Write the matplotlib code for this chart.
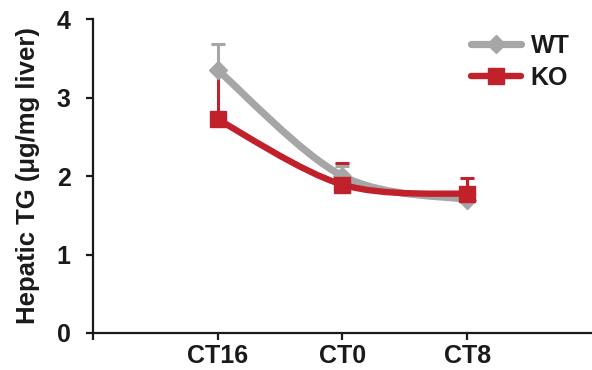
import matplotlib
matplotlib.use("Agg")
import matplotlib.pyplot as plt
from matplotlib.path import Path
from matplotlib.patches import PathPatch
from matplotlib.lines import Line2D
import numpy as np

plt.rcParams['font.family'] = ['Liberation Sans', 'DejaVu Sans']
plt.rcParams['font.weight'] = 'bold'

categories = ['CT16', 'CT0', 'CT8']
wt_values = [3.35, 2.00, 1.70]
wt_err = [0.33, 0.13, 0.10]
ko_values = [2.72, 1.89, 1.77]
ko_err = [0.56, 0.28, 0.21]

GRAY = '#a6a6a6'
RED = '#c1212b'
AXC = '#1a1a1a'

fig = plt.figure(figsize=(5.92, 3.70), dpi=100)
ax = fig.add_axes([0.157, 0.10, 0.843, 0.8486])

xpos = np.arange(1, len(categories) + 1)
ko_v = np.array(ko_values)
ko_e = np.array(ko_err)


def smooth_path(x, y):
    pts = np.column_stack([x, y]).astype(float)
    n = len(pts)
    verts = [pts[0]]
    codes = [Path.MOVETO]
    for i in range(n - 1):
        p0 = pts[i - 1] if i > 0 else pts[i]
        p1 = pts[i]
        p2 = pts[i + 1]
        p3 = pts[i + 2] if i + 2 < n else pts[i + 1]
        c1 = p1 + (p2 - p0) / 6.0
        c2 = p2 - (p3 - p1) / 6.0
        verts += [c1, c2, p2]
        codes += [Path.CURVE4] * 3
    return Path(verts, codes)


# KO error bars (behind WT); the first cap is hidden under the WT marker
ax.errorbar(xpos[:1], ko_v[:1], yerr=[np.zeros(1), ko_e[:1]], fmt='none',
            ecolor=RED, elinewidth=2.2, capsize=0, zorder=2)
ax.errorbar(xpos[1:], ko_v[1:], yerr=[np.zeros(2), ko_e[1:]], fmt='none',
            ecolor=RED, elinewidth=2.2, capsize=5, capthick=2.2, zorder=2)

# WT
ax.add_patch(PathPatch(smooth_path(xpos, wt_values), fill=False, edgecolor=GRAY,
                       lw=5.2, capstyle='round', joinstyle='round', zorder=3))
ax.errorbar(xpos, wt_values, yerr=[np.zeros(3), wt_err], fmt='none',
            ecolor=GRAY, elinewidth=2.2, capsize=5, capthick=2.2, zorder=3)
ax.plot(xpos, wt_values, linestyle='none', marker='D', ms=9, color=GRAY, zorder=3)

# KO
ax.add_patch(PathPatch(smooth_path(xpos, ko_values), fill=False, edgecolor=RED,
                       lw=4.6, capstyle='round', joinstyle='round', zorder=4))
ax.plot(xpos, ko_values, linestyle='none', marker='s', ms=11, color=RED, zorder=4)

ax.set_xlim(0, 4)
ax.set_ylim(0, 4)
ax.set_xticks([0, 1, 2, 3])
ax.set_xticklabels([''] + categories)
ax.set_yticks([0, 1, 2, 3, 4])
ax.set_yticklabels(['0', '1', '2', '3', '4'])

for s in ['top', 'right']:
    ax.spines[s].set_visible(False)
for s in ['left', 'bottom']:
    ax.spines[s].set_linewidth(1.6)
    ax.spines[s].set_color(AXC)

ax.tick_params(axis='both', direction='out', length=5, width=1.6, color=AXC,
               labelsize=18, labelcolor=AXC)
ax.tick_params(axis='y', pad=11)
ax.tick_params(axis='x', pad=3)
for lab in ax.get_xticklabels() + ax.get_yticklabels():
    lab.set_fontweight('bold')

ax.set_ylabel('Hepatic TG (\u03bcg/mg liver)', fontsize=18.5, fontweight='bold',
              color=AXC, labelpad=12)

handles = [
    Line2D([0], [0], color=GRAY, lw=5.2, marker='D', ms=9, solid_capstyle='round'),
    Line2D([0], [0], color=RED, lw=4.6, marker='s', ms=11, solid_capstyle='round'),
]
leg = ax.legend(handles, ['WT', 'KO'], loc='upper right', bbox_to_anchor=(0.985, 1.0),
                frameon=False, fontsize=18, handlelength=2.0, handletextpad=0.4,
                labelspacing=0.3, borderaxespad=0.2)
for t in leg.get_texts():
    t.set_fontweight('bold')
    t.set_color(AXC)

fig.savefig('out.png', dpi=100)
